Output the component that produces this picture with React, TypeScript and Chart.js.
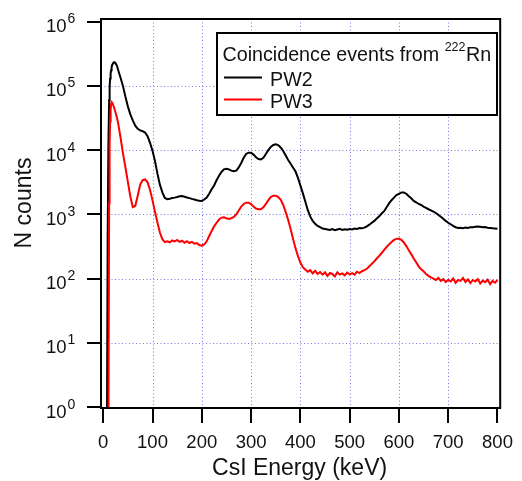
import React, { useEffect, useRef } from "react";
import { Chart, registerables } from "chart.js";

Chart.register(...registerables);

const energy = [
  7.5, 9, 10.5, 12, 13, 14, 15, 16, 17, 18,
  20, 22, 24, 26, 28,
  30, 35, 40, 45, 50, 55, 60, 65, 70, 75, 80, 85, 90, 95,
  100, 105, 110, 115, 120, 125, 130, 135, 140, 145, 150, 155, 160, 165, 170, 175, 180, 185, 190, 195,
  200, 205, 210, 215, 220, 225, 230, 235, 240, 245, 250, 255, 260, 265, 270, 275, 280, 285, 290, 295,
  300, 305, 310, 315, 320, 325, 330, 335, 340, 345, 350, 355, 360, 365, 370, 375, 380, 385, 390, 395,
  400, 405, 410, 415, 420, 425, 430, 435, 440, 445, 450, 455, 460, 465, 470, 475, 480, 485, 490, 495,
  500, 505, 510, 515, 520, 525, 530, 535, 540, 545, 550, 555, 560, 565, 570, 575, 580, 585, 590, 595,
  600, 605, 610, 615, 620, 625, 630, 635, 640, 645, 650, 655, 660, 665, 670, 675, 680, 685, 690, 695,
  700, 705, 710, 715, 720, 725, 730, 735, 740, 745, 750, 755, 760, 765, 770, 775, 780, 785, 790, 795,
  800,
];

const pw2Counts = [
  0.3, 400, 12000, 60000, 95000, 130000, 155000, 175000, 195000, 210000,
  225000, 234000, 230000, 218000, 205000,
  180000, 135000, 100000, 68000, 48000, 36000, 29000, 24000, 21500, 20300, 19700, 18800, 16500, 13000,
  9800, 6800, 4300, 2900, 2200, 1800, 1720, 1750, 1790, 1820, 1860, 1910, 1930, 1880, 1830, 1790, 1740, 1700, 1660, 1630,
  1620, 1700, 1820, 2090, 2450, 2820, 3390, 3980, 4570, 5010, 5130, 5010, 4790, 4680, 4790, 5370, 6310, 7590, 8710, 9120,
  9120, 8510, 7760, 7240, 7160, 7590, 8710, 10000, 11200, 12000, 12300, 12000, 11000, 9770, 8320, 7080, 6170, 5370, 4680, 3720,
  2820, 2140, 1580, 1170, 930, 790, 710, 660, 630, 600, 590, 580, 570, 590, 565, 580, 595, 570, 585, 575,
  590, 580, 600, 590, 610, 605, 620, 650, 690, 740, 790, 860, 930, 1030, 1120, 1290, 1480, 1660, 1820, 1990,
  2090, 2190, 2190, 2090, 1910, 1780, 1620, 1540, 1450, 1400, 1320, 1260, 1200, 1150, 1100, 1050, 980, 920, 850, 790,
  740, 700, 660, 630, 615, 620, 610, 625, 615, 630, 630, 640, 645, 640, 630, 635, 620, 615, 605, 600,
  595,
];

const pw3Counts = [
  0.3, 0.3, 0.3, 1500, 12000, 28000, 42000, 52000, 56000, 55000,
  51000, 46000, 41000, 36000, 31500,
  27000, 16000, 9000, 5400, 3200, 1900, 1300, 1350, 1950, 2900, 3400, 3500, 3150, 2400,
  1650, 1100, 750, 520, 410, 370, 380, 365, 392, 378, 400, 372, 388, 362, 381, 358, 372, 348, 356, 332,
  325, 340, 380, 460, 550, 650, 740, 830, 890, 900, 870, 850, 870, 910, 1000, 1150, 1320, 1450, 1520, 1510,
  1450, 1320, 1230, 1200, 1200, 1290, 1450, 1660, 1860, 1950, 1950, 1860, 1700, 1410, 1100, 830, 600, 420, 300, 225,
  178, 150, 138, 128, 135, 120, 132, 118, 126, 115, 125, 110, 122, 118, 108, 125, 115, 120, 112, 124,
  116, 121, 115, 128, 122, 130, 135, 142, 155, 170, 185, 205, 225, 250, 280, 310, 340, 370, 400, 415,
  420, 400, 365, 320, 275, 240, 205, 180, 155, 140, 130, 118, 110, 104, 100, 95, 102, 92, 98, 88,
  96, 90, 100, 86, 95, 92, 102, 88, 97, 85, 95, 90, 98, 84, 93, 88, 96, 82, 92, 86,
  95,
];

const xTickValues = [0, 100, 200, 300, 400, 500, 600, 700, 800];
const xGridValues = [100, 200, 300, 400, 500, 600, 700];
const yTickExponents = [0, 1, 2, 3, 4, 5, 6];
const yGridExponents = [1, 2, 3, 4, 5];
const seriesNames = ["PW2", "PW3"];
const seriesColors = ["#000000", "#ff0000"];
const legendTitle = "Coincidence events from ";
const legendMass = "222";
const legendElement = "Rn";
const xTitle = "CsI Energy (keV)";
const yTitle = "N counts";

const FONT = '"Liberation Sans", Arial, Helvetica, sans-serif';
const GRID = "rgb(118,118,236)";

const gridPlugin = {
  id: "dotgrid",
  beforeDatasetsDraw(chart: any) {
    const { ctx, chartArea: ca, scales } = chart;
    ctx.save();
    ctx.strokeStyle = GRID;
    ctx.lineWidth = 1;
    ctx.setLineDash([1, 2.5]);
    xGridValues.forEach((v) => {
      const px = Math.round(scales.x.getPixelForValue(v)) + 0.5;
      ctx.beginPath();
      ctx.moveTo(px, ca.top);
      ctx.lineTo(px, ca.bottom);
      ctx.stroke();
    });
    yGridExponents.forEach((e) => {
      const py = Math.round(scales.y.getPixelForValue(Math.pow(10, e))) + 0.5;
      ctx.beginPath();
      ctx.moveTo(ca.left, py);
      ctx.lineTo(ca.right, py);
      ctx.stroke();
    });
    ctx.restore();
  },
};

const decorPlugin = {
  id: "decor",
  afterDraw(chart: any) {
    const { ctx, chartArea: ca, scales } = chart;
    ctx.save();
    // frame
    ctx.strokeStyle = "#000";
    ctx.lineWidth = 2;
    ctx.setLineDash([]);
    ctx.strokeRect(ca.left, ca.top, ca.right - ca.left, ca.bottom - ca.top);

    // y tick labels 10^n
    ctx.fillStyle = "#111";
    ctx.textBaseline = "alphabetic";
    yTickExponents.forEach((e) => {
      const py = scales.y.getPixelForValue(Math.pow(10, e));
      ctx.font = `18.5px ${FONT}`;
      ctx.textAlign = "right";
      ctx.fillText("10", 66.5, py + 10.5);
      ctx.font = `14px ${FONT}`;
      ctx.textAlign = "left";
      ctx.fillText(String(e), 67.5, py + 1.5);
    });

    // axis titles
    ctx.font = `23px ${FONT}`;
    ctx.textAlign = "center";
    ctx.fillText(xTitle, (ca.left + ca.right) / 2 - 1, 475);
    ctx.save();
    ctx.translate(31, 203);
    ctx.rotate(-Math.PI / 2);
    ctx.fillText(yTitle, 0, 0);
    ctx.restore();

    // legend
    const lx = 217, ly = 33, lw = 280, lh = 82;
    ctx.fillStyle = "#fff";
    ctx.fillRect(lx, ly, lw, lh);
    ctx.strokeStyle = "#000";
    ctx.lineWidth = 2;
    ctx.strokeRect(lx, ly, lw, lh);
    ctx.fillStyle = "#111";
    ctx.textAlign = "left";
    ctx.font = `19.7px ${FONT}`;
    const tx = 222.5;
    ctx.fillText(legendTitle, tx, 61);
    const w1 = ctx.measureText(legendTitle).width;
    ctx.font = `12.5px ${FONT}`;
    ctx.fillText(legendMass, tx + w1, 50.5);
    const w2 = ctx.measureText(legendMass).width;
    ctx.font = `19.7px ${FONT}`;
    ctx.fillText(legendElement, tx + w1 + w2 + 0.5, 61);
    const rows = [77.5, 99.5];
    seriesNames.forEach((name, i) => {
      ctx.strokeStyle = seriesColors[i];
      ctx.lineWidth = 2;
      ctx.beginPath();
      ctx.moveTo(224, rows[i]);
      ctx.lineTo(262, rows[i]);
      ctx.stroke();
      ctx.fillStyle = "#111";
      ctx.fillText(name, 270, rows[i] + 8);
    });
    ctx.restore();
  },
};

export default function App() {
  const ref = useRef<HTMLCanvasElement | null>(null);
  useEffect(() => {
    if (!ref.current) return;
    const chart = new Chart(ref.current, {
      type: "line",
      data: {
        datasets: [
          {
            label: seriesNames[0],
            data: energy.map((e, i) => ({ x: e, y: pw2Counts[i] })),
            borderColor: seriesColors[0],
            borderWidth: 2,
            pointRadius: 0,
            tension: 0,
            order: 1,
          },
          {
            label: seriesNames[1],
            data: energy.map((e, i) => ({ x: e, y: pw3Counts[i] })),
            borderColor: seriesColors[1],
            borderWidth: 2,
            pointRadius: 0,
            tension: 0,
            order: 0,
          },
        ],
      },
      options: {
        responsive: false,
        animation: false,
        events: [],
        layout: { padding: { left: 0, right: 12, top: 19, bottom: 0 } },
        plugins: { legend: { display: false }, tooltip: { enabled: false } },
        scales: {
          x: {
            type: "linear",
            min: -4.5,
            max: 805.5,
            afterBuildTicks: (s: any) => {
              s.ticks = xTickValues.map((v) => ({ value: v }));
            },
            afterFit: (s: any) => {
              s.height = 73;
            },
            grid: {
              drawOnChartArea: false,
              color: "#000",
              lineWidth: 2,
              tickColor: "#000",
              tickLength: 15,
              tickWidth: 2,
            },
            border: { display: false },
            ticks: {
              color: "#111",
              font: { family: FONT, size: 18.5 },
              padding: 9,
              maxRotation: 0,
              autoSkip: false,
              callback: (v: any) => String(v),
            },
          },
          y: {
            type: "logarithmic",
            min: 0.965,
            max: 1.1e6,
            afterBuildTicks: (s: any) => {
              s.ticks = yTickExponents.map((e) => ({ value: Math.pow(10, e) }));
            },
            afterFit: (s: any) => {
              s.width = 101;
            },
            grid: {
              drawOnChartArea: false,
              color: "#000",
              lineWidth: 2,
              tickColor: "#000",
              tickLength: 14,
              tickWidth: 2,
            },
            border: { display: false },
            ticks: { callback: () => "" },
          },
        },
      },
      plugins: [gridPlugin, decorPlugin],
    });
    return () => chart.destroy();
  }, []);
  return (
    <div style={{ position: "fixed", left: 0, top: 0, width: 522, height: 481, background: "#fff" }}>
      <canvas ref={ref} width={522} height={481} style={{ display: "block", width: 522, height: 481 }} />
    </div>
  );
}
